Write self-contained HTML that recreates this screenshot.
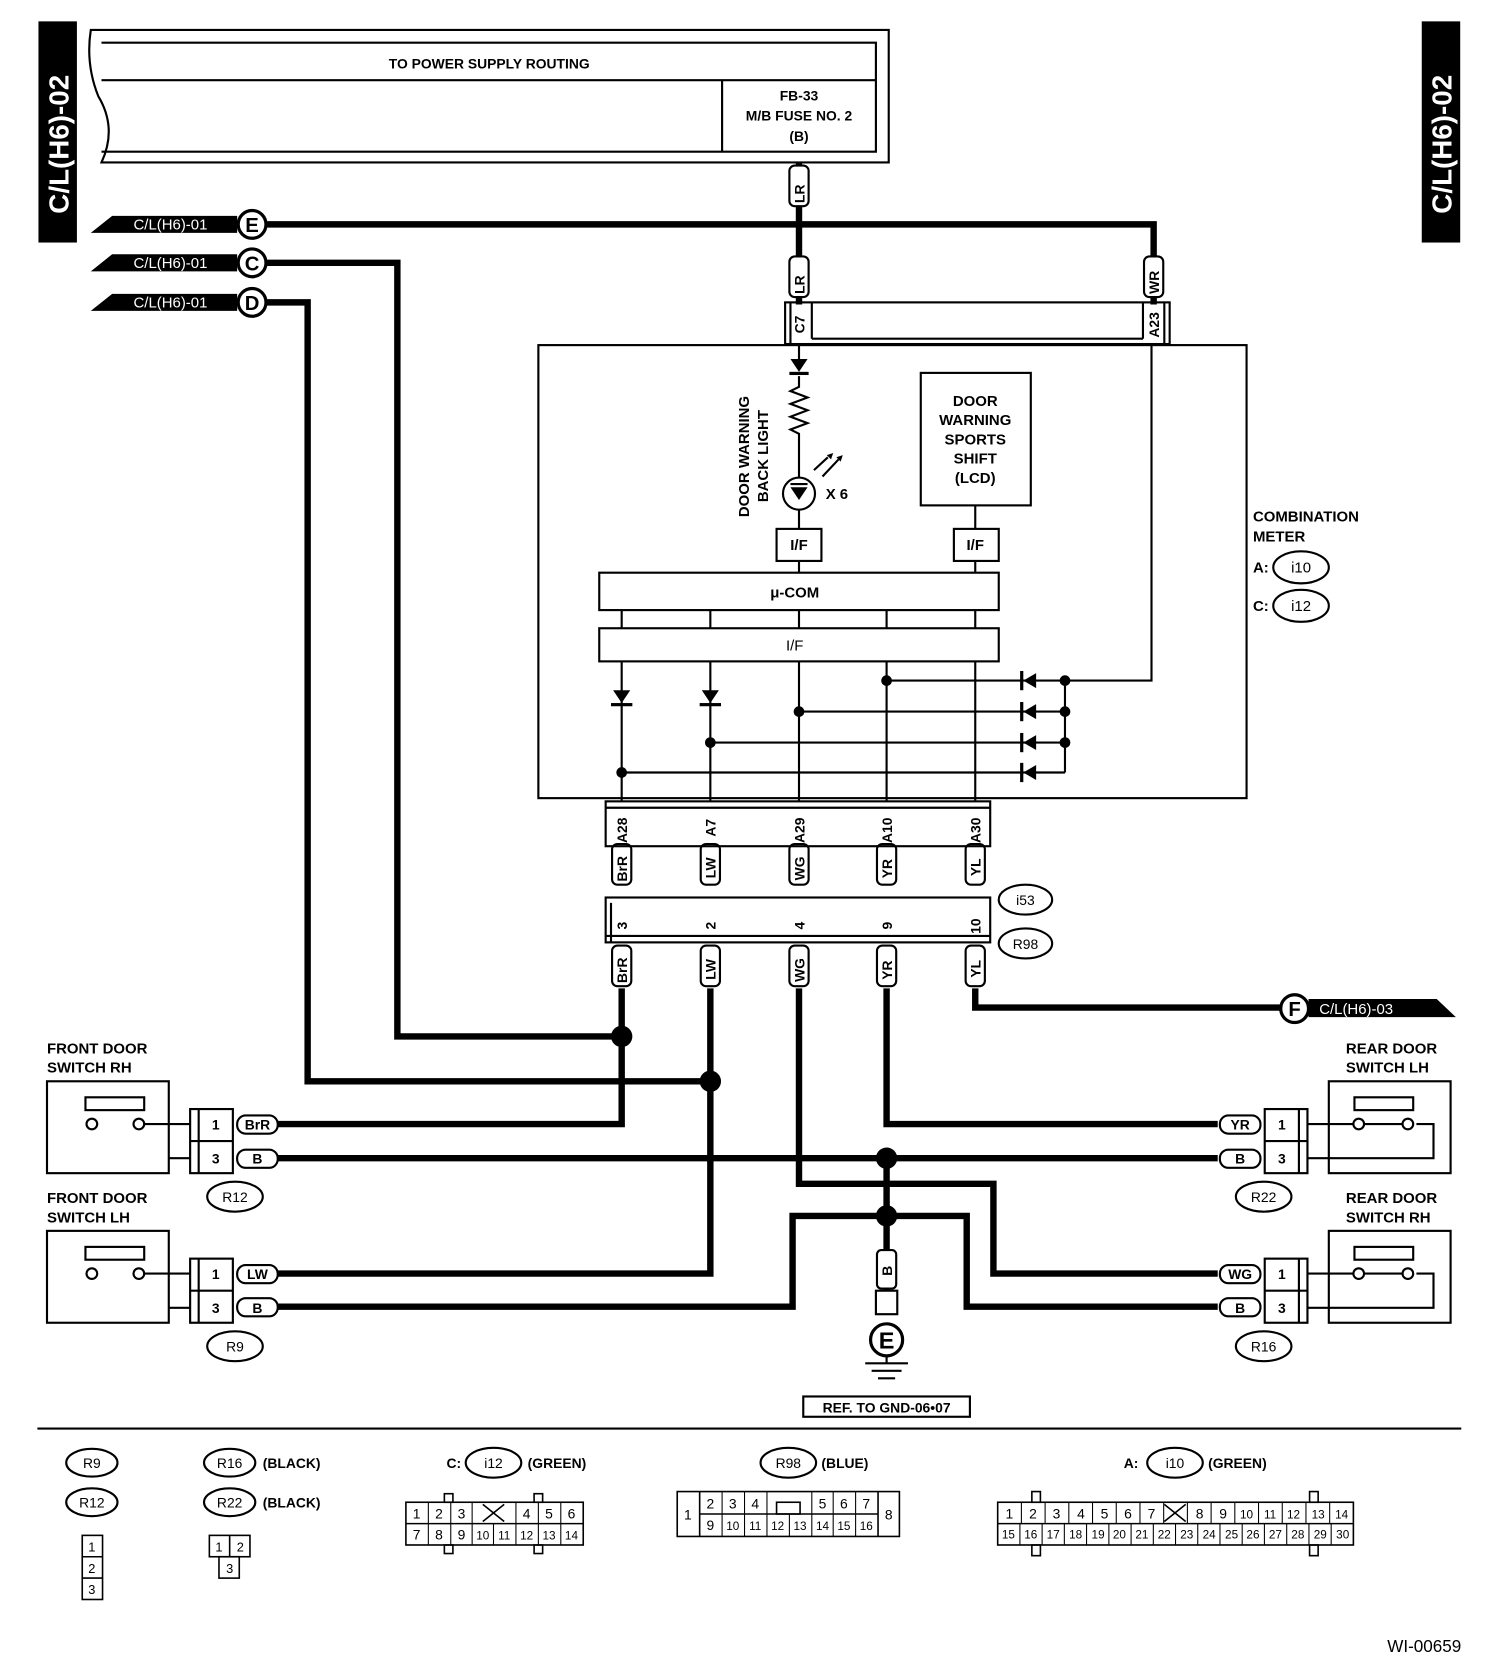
<!DOCTYPE html>
<html><head><meta charset="utf-8"><style>
html,body{margin:0;padding:0;background:#fff}
svg{display:block}
text{font-family:"Liberation Sans",sans-serif;font-weight:bold;fill:#000}
</style></head><body>
<svg width="1504" height="1670" viewBox="0 0 1408 1563" preserveAspectRatio="none" xmlns="http://www.w3.org/2000/svg">
<rect width="1408" height="1563" fill="#fff"/>
<rect x="36" y="20" width="36" height="207" fill="#000"/>
<text transform="translate(64,200) rotate(-90)" font-size="26" style="fill:#fff">C/L(H6)-02</text>
<rect x="1331" y="20" width="36" height="207" fill="#000"/>
<text transform="translate(1359,200) rotate(-90)" font-size="26" style="fill:#fff">C/L(H6)-02</text>
<g fill="none" stroke="#000" stroke-width="2">
<path d="M85,28 H832 V152 H95 Q110,120 92,90 Q80,60 85,28Z"/>
<path d="M95,40 H820 V142 H95"/>
<line x1="95" y1="75" x2="820" y2="75"/>
<line x1="676" y1="75" x2="676" y2="142"/>
</g>
<text x="458" y="64" font-size="13" text-anchor="middle">TO POWER SUPPLY ROUTING</text>
<text x="748" y="94" font-size="13" text-anchor="middle">FB-33</text>
<text x="748" y="113" font-size="13" text-anchor="middle">M/B FUSE NO. 2</text>
<text x="748" y="132" font-size="13" text-anchor="middle">(B)</text>
<g fill="none" stroke="#000" stroke-width="6">
<path d="M748,152 V285"/>
<path d="M250,210 H1080 V285"/>
<path d="M250,246 H372 V970 H582"/>
<path d="M250,283 H288 V1012 H665"/>
<path d="M582,925 V1052 H258"/>
<path d="M665,925 V1192 H258"/>
<path d="M748,925 V1108 H930 V1192 H1140"/>
<path d="M830,925 V1052 H1140"/>
<path d="M913,925 V943 H1200"/>
<path d="M258,1084 H1140"/>
<path d="M258,1223 H742 V1138 H905 V1223 H1140"/>
<path d="M830,1084 V1210"/>
</g>
<g>
<polygon points="85,218 105,202 222,202 222,218" fill="#000"/>
<polygon points="85,254 105,238 222,238 222,254" fill="#000"/>
<polygon points="85,291 105,275 222,275 222,291" fill="#000"/>
<text x="125" y="215" font-size="14" style="fill:#fff;font-weight:normal">C/L(H6)-01</text>
<text x="125" y="251" font-size="14" style="fill:#fff;font-weight:normal">C/L(H6)-01</text>
<text x="125" y="288" font-size="14" style="fill:#fff;font-weight:normal">C/L(H6)-01</text>
<g fill="#fff" stroke="#000" stroke-width="3">
<circle cx="236" cy="210" r="13"/><circle cx="236" cy="246" r="13"/><circle cx="236" cy="283" r="13"/>
</g>
<text x="236" y="217" font-size="19" text-anchor="middle">E</text>
<text x="236" y="253" font-size="19" text-anchor="middle">C</text>
<text x="236" y="290" font-size="19" text-anchor="middle">D</text>
<polygon points="1225,935 1345,935 1363,952 1225,952" fill="#000"/>
<text x="1235" y="949" font-size="14" style="fill:#fff;font-weight:normal">C/L(H6)-03</text>
<circle cx="1212" cy="944" r="13" fill="#fff" stroke="#000" stroke-width="3"/>
<text x="1212" y="951" font-size="19" text-anchor="middle">F</text>
</g>
<g font-size="13">
<g fill="#fff" stroke="#000" stroke-width="2">
<rect x="739" y="155" width="18" height="38" rx="5"/>
<rect x="739" y="240" width="18" height="38" rx="5"/>
<rect x="1071" y="240" width="18" height="38" rx="5"/>
<rect x="573" y="790" width="18" height="38" rx="5"/><rect x="656" y="790" width="18" height="38" rx="5"/><rect x="739" y="790" width="18" height="38" rx="5"/><rect x="821" y="790" width="18" height="38" rx="5"/><rect x="904" y="790" width="18" height="38" rx="5"/>
<rect x="573" y="885" width="18" height="38" rx="5"/><rect x="656" y="885" width="18" height="38" rx="5"/><rect x="739" y="885" width="18" height="38" rx="5"/><rect x="821" y="885" width="18" height="38" rx="5"/><rect x="904" y="885" width="18" height="38" rx="5"/>
<rect x="821" y="1170" width="18" height="36" rx="4"/>
<rect x="820" y="1208" width="20" height="22"/>
</g>
<text transform="translate(753,190) rotate(-90)">LR</text>
<text transform="translate(753,275) rotate(-90)">LR</text>
<text transform="translate(1085,275) rotate(-90)">WR</text>
<text transform="translate(587,825) rotate(-90)">BrR</text>
<text transform="translate(670,822) rotate(-90)">LW</text>
<text transform="translate(753,824) rotate(-90)">WG</text>
<text transform="translate(835,822) rotate(-90)">YR</text>
<text transform="translate(918,820) rotate(-90)">YL</text>
<text transform="translate(587,920) rotate(-90)">BrR</text>
<text transform="translate(670,917) rotate(-90)">LW</text>
<text transform="translate(753,919) rotate(-90)">WG</text>
<text transform="translate(835,917) rotate(-90)">YR</text>
<text transform="translate(918,915) rotate(-90)">YL</text>
<text transform="translate(835,1194) rotate(-90)">B</text>
</g>
<g fill="none" stroke="#000" stroke-width="2">
<rect x="735" y="283" width="360" height="39"/>
<line x1="740" y1="283" x2="740" y2="322"/><line x1="760" y1="283" x2="760" y2="317"/><line x1="760" y1="317" x2="1070" y2="317"/><line x1="1070" y1="283" x2="1070" y2="317"/><line x1="1090" y1="283" x2="1090" y2="322"/>
<rect x="567" y="750" width="360" height="42"/>
<line x1="567" y1="756" x2="927" y2="756"/>
<rect x="567" y="840" width="360" height="42"/>
<line x1="572" y1="845" x2="572" y2="882"/><line x1="567" y1="876" x2="927" y2="876"/>
</g>
<g font-size="13">
<text transform="translate(753,312) rotate(-90)">C7</text>
<text transform="translate(1085,316) rotate(-90)">A23</text>
<text transform="translate(587,789) rotate(-90)">A28</text>
<text transform="translate(670,783) rotate(-90)">A7</text>
<text transform="translate(753,789) rotate(-90)">A29</text>
<text transform="translate(835,789) rotate(-90)">A10</text>
<text transform="translate(918,789) rotate(-90)">A30</text>
<text transform="translate(587,870) rotate(-90)">3</text>
<text transform="translate(670,870) rotate(-90)">2</text>
<text transform="translate(753,870) rotate(-90)">4</text>
<text transform="translate(835,870) rotate(-90)">9</text>
<text transform="translate(918,874) rotate(-90)">10</text>
</g>
<g fill="#fff" stroke="#000" stroke-width="2">
<ellipse cx="960" cy="842" rx="25" ry="14"/><ellipse cx="960" cy="883" rx="25" ry="14"/>
</g>
<text x="960" y="847" font-size="13" text-anchor="middle" style="font-weight:normal">i53</text>
<text x="960" y="888" font-size="13" text-anchor="middle" style="font-weight:normal">R98</text>
<g fill="none" stroke="#000" stroke-width="2">
<rect x="504" y="323" width="663" height="424"/>
<line x1="748" y1="322" x2="748" y2="336"/>
<polyline points="748,352 748,362 740,366 756,372 740,378 756,384 740,390 756,396 740,402 748,406 748,447"/>
<circle cx="748" cy="462" r="15"/>
<line x1="740" y1="453" x2="756" y2="453"/>
<line x1="748" y1="477" x2="748" y2="495"/>
<line x1="762" y1="440" x2="775" y2="428"/><line x1="770" y1="446" x2="785" y2="430"/>
<rect x="862" y="349" width="103" height="124"/>
<line x1="913" y1="473" x2="913" y2="495"/>
<rect x="727" y="495" width="42" height="30"/><rect x="893" y="495" width="42" height="30"/>
<line x1="748" y1="525" x2="748" y2="536"/><line x1="913" y1="525" x2="913" y2="536"/>
<rect x="561" y="536" width="374" height="35"/>
<rect x="561" y="588" width="374" height="31"/>
<line x1="582" y1="571" x2="582" y2="588"/><line x1="665" y1="571" x2="665" y2="588"/><line x1="748" y1="571" x2="748" y2="588"/><line x1="830" y1="571" x2="830" y2="588"/><line x1="913" y1="571" x2="913" y2="588"/>
<line x1="582" y1="619" x2="582" y2="750"/><line x1="665" y1="619" x2="665" y2="750"/><line x1="748" y1="619" x2="748" y2="750"/><line x1="830" y1="619" x2="830" y2="750"/><line x1="913" y1="619" x2="913" y2="750"/>
<line x1="830" y1="637" x2="997" y2="637"/><line x1="748" y1="666" x2="997" y2="666"/><line x1="665" y1="695" x2="997" y2="695"/><line x1="582" y1="723" x2="997" y2="723"/>
<line x1="997" y1="637" x2="997" y2="723"/>
<polyline points="997,637 1078,637 1078,322"/>
</g>
<g fill="#000">
<polygon points="740,336 756,336 748,348"/><rect x="739" y="348" width="18" height="3"/>
<polygon points="740,456 756,456 748,468"/>
<polygon points="774,426 780,424 778,430"/><polygon points="783,428 789,426 787,432"/>
<polygon points="574,646 590,646 582,658"/><rect x="572" y="658" width="20" height="3"/>
<polygon points="657,646 673,646 665,658"/><rect x="655" y="658" width="20" height="3"/>
<polygon points="970,630 970,644 958,637"/><rect x="955" y="628" width="3" height="18"/>
<polygon points="970,659 970,673 958,666"/><rect x="955" y="657" width="3" height="18"/>
<polygon points="970,688 970,702 958,695"/><rect x="955" y="686" width="3" height="18"/>
<polygon points="970,716 970,730 958,723"/><rect x="955" y="714" width="3" height="18"/>
<circle cx="830" cy="637" r="5"/><circle cx="748" cy="666" r="5"/><circle cx="665" cy="695" r="5"/><circle cx="582" cy="723" r="5"/>
<circle cx="997" cy="637" r="5"/><circle cx="997" cy="666" r="5"/><circle cx="997" cy="695" r="5"/>
<circle cx="582" cy="970" r="10"/><circle cx="665" cy="1012" r="10"/><circle cx="830" cy="1084" r="10"/><circle cx="830" cy="1138" r="10"/>
</g>
<g font-size="14">
<text transform="translate(701,484) rotate(-90)">DOOR WARNING</text>
<text transform="translate(719,470) rotate(-90)">BACK LIGHT</text>
<text x="773" y="467">X 6</text>
<text x="913" y="380" text-anchor="middle">DOOR</text>
<text x="913" y="398" text-anchor="middle">WARNING</text>
<text x="913" y="416" text-anchor="middle">SPORTS</text>
<text x="913" y="434" text-anchor="middle">SHIFT</text>
<text x="913" y="452" text-anchor="middle">(LCD)</text>
<text x="748" y="515" text-anchor="middle">I/F</text>
<text x="913" y="515" text-anchor="middle">I/F</text>
<text x="744" y="559" text-anchor="middle">μ-COM</text>
<text x="744" y="609" text-anchor="middle" style="font-weight:normal">I/F</text>
<text x="1173" y="488">COMBINATION</text>
<text x="1173" y="507">METER</text>
<text x="1173" y="536">A:</text>
<text x="1173" y="572">C:</text>
</g>
<g fill="#fff" stroke="#000" stroke-width="2">
<ellipse cx="1218" cy="531" rx="26" ry="15"/><ellipse cx="1218" cy="567" rx="26" ry="15"/>
</g>
<text x="1218" y="536" font-size="14" text-anchor="middle" style="font-weight:normal">i10</text>
<text x="1218" y="572" font-size="14" text-anchor="middle" style="font-weight:normal">i12</text>
<g font-size="14">
<text x="44" y="986">FRONT DOOR</text><text x="44" y="1004">SWITCH RH</text>
<text x="44" y="1126">FRONT DOOR</text><text x="44" y="1144">SWITCH LH</text>
<text x="1260" y="986">REAR DOOR</text><text x="1260" y="1004">SWITCH LH</text>
<text x="1260" y="1126">REAR DOOR</text><text x="1260" y="1144">SWITCH RH</text>
</g>
<g fill="none" stroke="#000" stroke-width="2">
<rect x="44" y="1012" width="114" height="86"/><rect x="44" y="1152" width="114" height="86"/>
<rect x="1244" y="1012" width="114" height="86"/><rect x="1244" y="1152" width="114" height="86"/>
<rect x="80" y="1027" width="55" height="12"/><rect x="80" y="1167" width="55" height="12"/>
<rect x="1268" y="1027" width="55" height="12"/><rect x="1268" y="1167" width="55" height="12"/>
<polyline points="158,1052 130,1052 M92,1052 60,1052 60,1084 158,1084"/>
<polyline points="158,1192 130,1192 M92,1192 60,1192 60,1224 158,1224"/>
<polyline points="1244,1052 1318,1052"/>
<polyline points="1244,1192 1318,1192"/>
<polyline points="1326,1052 1342,1052 1342,1084 1224,1084"/>
<polyline points="1326,1192 1342,1192 1342,1224 1224,1224"/>
<circle cx="86" cy="1052" r="5" fill="#fff"/><circle cx="130" cy="1052" r="5" fill="#fff"/>
<circle cx="86" cy="1192" r="5" fill="#fff"/><circle cx="130" cy="1192" r="5" fill="#fff"/>
<circle cx="1272" cy="1052" r="5" fill="#fff"/><circle cx="1318" cy="1052" r="5" fill="#fff"/>
<circle cx="1272" cy="1192" r="5" fill="#fff"/><circle cx="1318" cy="1192" r="5" fill="#fff"/>
<line x1="158" y1="1052" x2="178" y2="1052"/><line x1="158" y1="1084" x2="178" y2="1084"/>
<line x1="158" y1="1192" x2="178" y2="1192"/><line x1="158" y1="1224" x2="178" y2="1224"/>
<line x1="1224" y1="1052" x2="1244" y2="1052"/><line x1="1224" y1="1192" x2="1244" y2="1192"/>
<rect x="178" y="1038" width="40" height="60" fill="#fff"/><rect x="178" y="1178" width="40" height="60" fill="#fff"/>
<rect x="1184" y="1038" width="40" height="60" fill="#fff"/><rect x="1184" y="1178" width="40" height="60" fill="#fff"/>
<line x1="186" y1="1038" x2="186" y2="1098"/><line x1="178" y1="1068" x2="218" y2="1068"/>
<line x1="186" y1="1178" x2="186" y2="1238"/><line x1="178" y1="1208" x2="218" y2="1208"/>
<line x1="1216" y1="1038" x2="1216" y2="1098"/><line x1="1184" y1="1068" x2="1224" y2="1068"/>
<line x1="1216" y1="1178" x2="1216" y2="1238"/><line x1="1184" y1="1208" x2="1224" y2="1208"/>
</g>
<g fill="#fff" stroke="#000" stroke-width="2">
<rect x="222" y="1044" width="38" height="17" rx="8"/><rect x="222" y="1076" width="38" height="17" rx="8"/>
<rect x="222" y="1184" width="38" height="17" rx="8"/><rect x="222" y="1215" width="38" height="17" rx="8"/>
<rect x="1142" y="1044" width="38" height="17" rx="8"/><rect x="1142" y="1076" width="38" height="17" rx="8"/>
<rect x="1142" y="1184" width="38" height="17" rx="8"/><rect x="1142" y="1215" width="38" height="17" rx="8"/>
<ellipse cx="220" cy="1120" rx="26" ry="14"/><ellipse cx="220" cy="1260" rx="26" ry="14"/>
<ellipse cx="1183" cy="1120" rx="26" ry="14"/><ellipse cx="1183" cy="1260" rx="26" ry="14"/>
</g>
<g font-size="13">
<text x="202" y="1057" text-anchor="middle">1</text><text x="202" y="1089" text-anchor="middle">3</text>
<text x="202" y="1197" text-anchor="middle">1</text><text x="202" y="1229" text-anchor="middle">3</text>
<text x="1200" y="1057" text-anchor="middle">1</text><text x="1200" y="1089" text-anchor="middle">3</text>
<text x="1200" y="1197" text-anchor="middle">1</text><text x="1200" y="1229" text-anchor="middle">3</text>
<text x="241" y="1057" text-anchor="middle">BrR</text><text x="241" y="1089" text-anchor="middle">B</text>
<text x="241" y="1197" text-anchor="middle">LW</text><text x="241" y="1229" text-anchor="middle">B</text>
<text x="1161" y="1057" text-anchor="middle">YR</text><text x="1161" y="1089" text-anchor="middle">B</text>
<text x="1161" y="1197" text-anchor="middle">WG</text><text x="1161" y="1229" text-anchor="middle">B</text>
<text x="220" y="1125" text-anchor="middle" style="font-weight:normal">R12</text>
<text x="220" y="1265" text-anchor="middle" style="font-weight:normal">R9</text>
<text x="1183" y="1125" text-anchor="middle" style="font-weight:normal">R22</text>
<text x="1183" y="1265" text-anchor="middle" style="font-weight:normal">R16</text>
</g>
<circle cx="830" cy="1254" r="15" fill="#fff" stroke="#000" stroke-width="3"/>
<text x="830" y="1262" font-size="22" text-anchor="middle">E</text>
<g stroke="#000" stroke-width="2">
<line x1="830" y1="1269" x2="830" y2="1276"/>
<line x1="810" y1="1276" x2="850" y2="1276"/><line x1="816" y1="1283" x2="844" y2="1283"/><line x1="822" y1="1290" x2="838" y2="1290"/>
</g>
<rect x="752" y="1307" width="156" height="19" fill="none" stroke="#000" stroke-width="2"/>
<text x="830" y="1322" font-size="13" text-anchor="middle">REF. TO GND-06•07</text>
<line x1="35" y1="1337" x2="1368" y2="1337" stroke="#000" stroke-width="2"/>
<g fill="#fff" stroke="#000" stroke-width="2">
<ellipse cx="86" cy="1369" rx="24" ry="13"/><ellipse cx="86" cy="1406" rx="24" ry="13"/>
<ellipse cx="215" cy="1369" rx="24" ry="13"/><ellipse cx="215" cy="1406" rx="24" ry="13"/>
<ellipse cx="462" cy="1369" rx="26" ry="14"/><ellipse cx="738" cy="1369" rx="26" ry="14"/><ellipse cx="1100" cy="1369" rx="26" ry="14"/>
</g>
<g font-size="13">
<text x="86" y="1374" text-anchor="middle" style="font-weight:normal">R9</text>
<text x="86" y="1411" text-anchor="middle" style="font-weight:normal">R12</text>
<text x="215" y="1374" text-anchor="middle" style="font-weight:normal">R16</text>
<text x="215" y="1411" text-anchor="middle" style="font-weight:normal">R22</text>
<text x="246" y="1374">(BLACK)</text><text x="246" y="1411">(BLACK)</text>
<text x="418" y="1374">C:</text><text x="462" y="1374" text-anchor="middle" style="font-weight:normal">i12</text><text x="494" y="1374">(GREEN)</text>
<text x="738" y="1374" text-anchor="middle" style="font-weight:normal">R98</text><text x="769" y="1374">(BLUE)</text>
<text x="1052" y="1374">A:</text><text x="1100" y="1374" text-anchor="middle" style="font-weight:normal">i10</text><text x="1131" y="1374">(GREEN)</text>
<text x="1368" y="1546" text-anchor="end" font-size="16" style="font-weight:normal">WI-00659</text>
</g>
<g fill="none" stroke="#000" stroke-width="1.5">
<rect x="77" y="1437" width="19" height="60"/><line x1="77" y1="1457" x2="96" y2="1457"/><line x1="77" y1="1477" x2="96" y2="1477"/>
<rect x="196" y="1437" width="38" height="20"/><line x1="215" y1="1437" x2="215" y2="1457"/><rect x="205" y="1457" width="19" height="20"/>
<rect x="380" y="1406" width="166" height="40"/><line x1="380" y1="1426" x2="546" y2="1426"/>
<rect x="416" y="1398" width="8" height="8"/><rect x="416" y="1446" width="8" height="8"/><rect x="500" y="1398" width="8" height="8"/><rect x="500" y="1446" width="8" height="8"/>
<rect x="634" y="1396" width="208" height="42"/><line x1="655" y1="1417" x2="822" y2="1417"/><line x1="655" y1="1396" x2="655" y2="1438"/><line x1="822" y1="1396" x2="822" y2="1438"/>
<rect x="727" y="1406" width="22" height="11"/>
<rect x="934" y="1406" width="333" height="40"/><line x1="934" y1="1426" x2="1267" y2="1426"/>
<rect x="966" y="1396" width="8" height="10"/><rect x="966" y="1446" width="8" height="10"/><rect x="1226" y="1396" width="8" height="10"/><rect x="1226" y="1446" width="8" height="10"/>
<line x1="452" y1="1408" x2="472" y2="1424"/><line x1="472" y1="1408" x2="452" y2="1424"/>
<line x1="1090" y1="1408" x2="1110" y2="1424"/><line x1="1110" y1="1408" x2="1090" y2="1424"/>
</g>
<g font-size="12" style="font-weight:normal" text-anchor="middle">
<text x="86" y="1452" style="font-weight:normal">1</text><text x="86" y="1472" style="font-weight:normal">2</text><text x="86" y="1492" style="font-weight:normal">3</text>
<text x="205" y="1452" style="font-weight:normal">1</text><text x="225" y="1452" style="font-weight:normal">2</text><text x="215" y="1472" style="font-weight:normal">3</text>
</g>
<g stroke="#000" stroke-width="1">
<line x1="401" y1="1406" x2="401" y2="1446"/><line x1="422" y1="1406" x2="422" y2="1446"/><line x1="442" y1="1406" x2="442" y2="1446"/><line x1="462" y1="1426" x2="462" y2="1446"/><line x1="483" y1="1406" x2="483" y2="1446"/><line x1="504" y1="1406" x2="504" y2="1446"/><line x1="525" y1="1406" x2="525" y2="1446"/>
<line x1="676" y1="1396" x2="676" y2="1438"/><line x1="697" y1="1396" x2="697" y2="1438"/><line x1="718" y1="1396" x2="718" y2="1438"/><line x1="739" y1="1417" x2="739" y2="1438"/><line x1="760" y1="1396" x2="760" y2="1438"/><line x1="780" y1="1396" x2="780" y2="1438"/><line x1="801" y1="1396" x2="801" y2="1438"/>
<!-- i10 top row: 15 cells of 22.2 -->
<line x1="956.2" y1="1406" x2="956.2" y2="1426"/><line x1="978.4" y1="1406" x2="978.4" y2="1426"/><line x1="1000.6" y1="1406" x2="1000.6" y2="1426"/><line x1="1022.8" y1="1406" x2="1022.8" y2="1426"/><line x1="1045" y1="1406" x2="1045" y2="1426"/><line x1="1067.2" y1="1406" x2="1067.2" y2="1426"/><line x1="1089.4" y1="1406" x2="1089.4" y2="1426"/><line x1="1111.6" y1="1406" x2="1111.6" y2="1426"/><line x1="1133.8" y1="1406" x2="1133.8" y2="1426"/><line x1="1156" y1="1406" x2="1156" y2="1426"/><line x1="1178.2" y1="1406" x2="1178.2" y2="1426"/><line x1="1200.4" y1="1406" x2="1200.4" y2="1426"/><line x1="1222.6" y1="1406" x2="1222.6" y2="1426"/><line x1="1244.8" y1="1406" x2="1244.8" y2="1426"/>
<!-- i10 bottom row: 16 cells of 20.81 -->
<line x1="954.8" y1="1426" x2="954.8" y2="1446"/><line x1="975.6" y1="1426" x2="975.6" y2="1446"/><line x1="996.4" y1="1426" x2="996.4" y2="1446"/><line x1="1017.2" y1="1426" x2="1017.2" y2="1446"/><line x1="1038.1" y1="1426" x2="1038.1" y2="1446"/><line x1="1058.9" y1="1426" x2="1058.9" y2="1446"/><line x1="1079.7" y1="1426" x2="1079.7" y2="1446"/><line x1="1100.5" y1="1426" x2="1100.5" y2="1446"/><line x1="1121.3" y1="1426" x2="1121.3" y2="1446"/><line x1="1142.1" y1="1426" x2="1142.1" y2="1446"/><line x1="1162.9" y1="1426" x2="1162.9" y2="1446"/><line x1="1183.7" y1="1426" x2="1183.7" y2="1446"/><line x1="1204.6" y1="1426" x2="1204.6" y2="1446"/><line x1="1225.4" y1="1426" x2="1225.4" y2="1446"/><line x1="1246.2" y1="1426" x2="1246.2" y2="1446"/>
</g>
<g font-size="13" text-anchor="middle">
<text x="390" y="1421" style="font-weight:normal">1</text><text x="411" y="1421" style="font-weight:normal">2</text><text x="432" y="1421" style="font-weight:normal">3</text><text x="493" y="1421" style="font-weight:normal">4</text><text x="514" y="1421" style="font-weight:normal">5</text><text x="535" y="1421" style="font-weight:normal">6</text>
<text x="390" y="1441" style="font-weight:normal">7</text><text x="411" y="1441" style="font-weight:normal">8</text><text x="432" y="1441" style="font-weight:normal">9</text><text x="452" y="1441" font-size="11" style="font-weight:normal">10</text><text x="472" y="1441" font-size="11" style="font-weight:normal">11</text><text x="493" y="1441" font-size="11" style="font-weight:normal">12</text><text x="514" y="1441" font-size="11" style="font-weight:normal">13</text><text x="535" y="1441" font-size="11" style="font-weight:normal">14</text>
<text x="644" y="1422" style="font-weight:normal">1</text><text x="832" y="1422" style="font-weight:normal">8</text>
<text x="665" y="1412" style="font-weight:normal">2</text><text x="686" y="1412" style="font-weight:normal">3</text><text x="707" y="1412" style="font-weight:normal">4</text><text x="770" y="1412" style="font-weight:normal">5</text><text x="790" y="1412" style="font-weight:normal">6</text><text x="811" y="1412" style="font-weight:normal">7</text>
<text x="665" y="1432" style="font-weight:normal">9</text><text x="686" y="1432" font-size="11" style="font-weight:normal">10</text><text x="707" y="1432" font-size="11" style="font-weight:normal">11</text><text x="728" y="1432" font-size="11" style="font-weight:normal">12</text><text x="749" y="1432" font-size="11" style="font-weight:normal">13</text><text x="770" y="1432" font-size="11" style="font-weight:normal">14</text><text x="790" y="1432" font-size="11" style="font-weight:normal">15</text><text x="811" y="1432" font-size="11" style="font-weight:normal">16</text>
<text x="945" y="1421" style="font-weight:normal">1</text><text x="967" y="1421" style="font-weight:normal">2</text><text x="989" y="1421" style="font-weight:normal">3</text><text x="1012" y="1421" style="font-weight:normal">4</text><text x="1034" y="1421" style="font-weight:normal">5</text><text x="1056" y="1421" style="font-weight:normal">6</text><text x="1078" y="1421" style="font-weight:normal">7</text><text x="1123" y="1421" style="font-weight:normal">8</text><text x="1145" y="1421" style="font-weight:normal">9</text><text x="1167" y="1421" font-size="11" style="font-weight:normal">10</text><text x="1189" y="1421" font-size="11" style="font-weight:normal">11</text><text x="1211" y="1421" font-size="11" style="font-weight:normal">12</text><text x="1234" y="1421" font-size="11" style="font-weight:normal">13</text><text x="1256" y="1421" font-size="11" style="font-weight:normal">14</text>
<g font-size="11">
<text x="944" y="1440" style="font-weight:normal">15</text><text x="965" y="1440" style="font-weight:normal">16</text><text x="986" y="1440" style="font-weight:normal">17</text><text x="1007" y="1440" style="font-weight:normal">18</text><text x="1028" y="1440" style="font-weight:normal">19</text><text x="1048" y="1440" style="font-weight:normal">20</text><text x="1069" y="1440" style="font-weight:normal">21</text><text x="1090" y="1440" style="font-weight:normal">22</text><text x="1111" y="1440" style="font-weight:normal">23</text><text x="1132" y="1440" style="font-weight:normal">24</text><text x="1153" y="1440" style="font-weight:normal">25</text><text x="1173" y="1440" style="font-weight:normal">26</text><text x="1194" y="1440" style="font-weight:normal">27</text><text x="1215" y="1440" style="font-weight:normal">28</text><text x="1236" y="1440" style="font-weight:normal">29</text><text x="1257" y="1440" style="font-weight:normal">30</text>
</g>
</g>
</svg>
</body></html>
